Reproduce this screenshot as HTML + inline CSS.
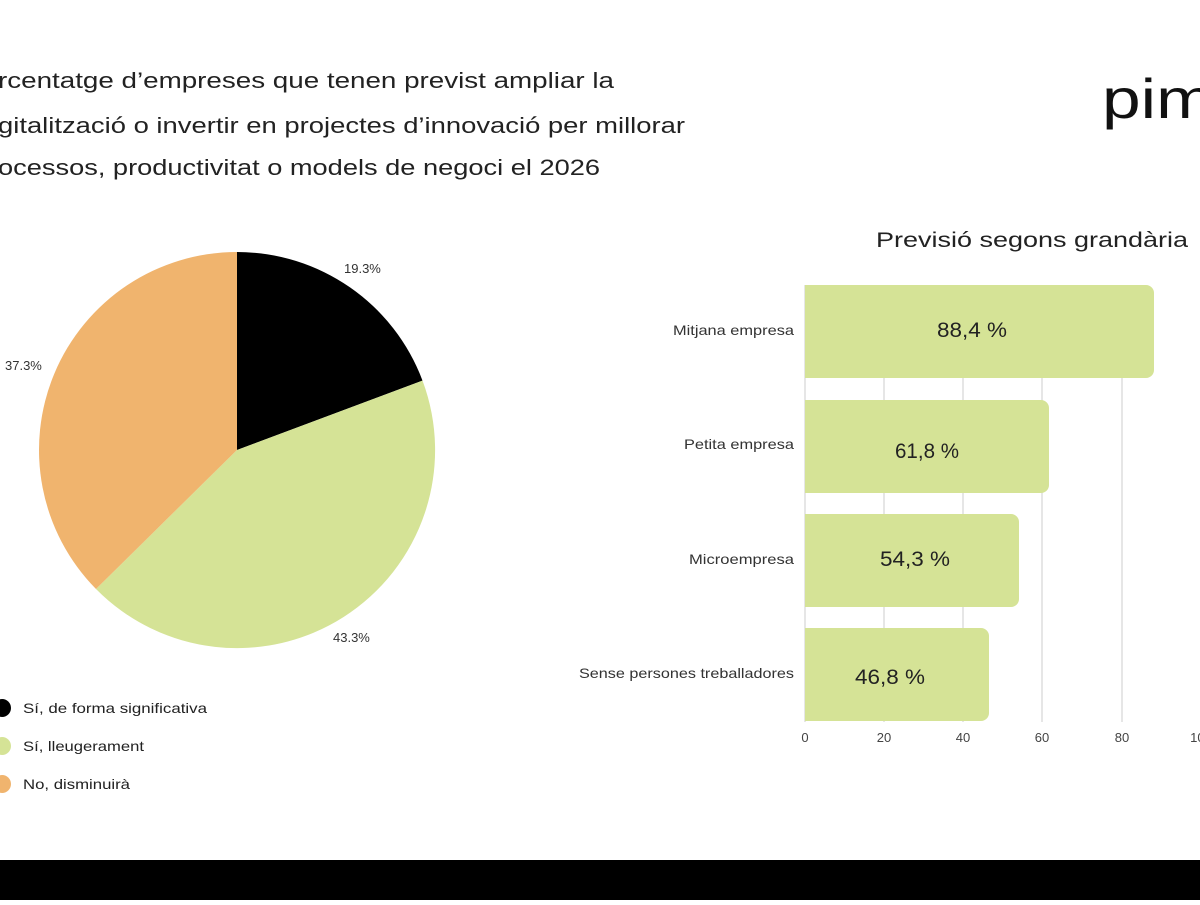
<!DOCTYPE html>
<html><head><meta charset="utf-8"><style>
html,body{margin:0;padding:0;background:#fff;}
body{width:1200px;height:900px;overflow:hidden;position:relative;font-family:"Liberation Sans",sans-serif;}
</style></head><body>
<svg width="1200" height="900" viewBox="0 0 1200 900" xmlns="http://www.w3.org/2000/svg" font-family="Liberation Sans, sans-serif">
<rect width="1200" height="900" fill="#fff"/>
<g font-size="22" fill="#222" lengthAdjust="spacingAndGlyphs">
<text x="-2" y="88" textLength="616" lengthAdjust="spacingAndGlyphs">rcentatge d’empreses que tenen previst ampliar la</text>
<text x="-2" y="133" textLength="687" lengthAdjust="spacingAndGlyphs">gitalització o invertir en projectes d’innovació per millorar</text>
<text x="-2" y="175" textLength="602" lengthAdjust="spacingAndGlyphs">ocessos, productivitat o models de negoci el 2026</text>
</g>
<text x="1102" y="118" font-size="56" fill="#111" textLength="112" lengthAdjust="spacingAndGlyphs">pim</text>
<!-- pie -->
<path d="M237,450 L237,252 A198,198 0 0 1 422.5,380.6 Z" fill="#000"/>
<path d="M237,450 L422.5,380.6 A198,198 0 0 1 96,589 Z" fill="#d5e396"/>
<path d="M237,450 L96,589 A198,198 0 0 1 237,252 Z" fill="#f0b46e"/>
<g font-size="13" fill="#333">
<text x="344" y="273">19.3%</text>
<text x="5" y="370">37.3%</text>
<text x="333" y="642">43.3%</text>
</g>
<circle cx="2" cy="708" r="9" fill="#000"/>
<circle cx="2" cy="746" r="9" fill="#d5e396"/>
<circle cx="2" cy="784" r="9" fill="#f0b46e"/>
<g font-size="14" fill="#222">
<text x="23" y="713" textLength="184" lengthAdjust="spacingAndGlyphs">Sí, de forma significativa</text>
<text x="23" y="751" textLength="121" lengthAdjust="spacingAndGlyphs">Sí, lleugerament</text>
<text x="23" y="789" textLength="107" lengthAdjust="spacingAndGlyphs">No, disminuirà</text>
</g>
<!-- bars -->
<text x="876" y="247" font-size="21" fill="#222" textLength="312" lengthAdjust="spacingAndGlyphs">Previsió segons grandària</text>
<g stroke="#ddd" stroke-width="1.5">
<line x1="884" y1="285" x2="884" y2="722"/>
<line x1="963" y1="285" x2="963" y2="722"/>
<line x1="1042" y1="285" x2="1042" y2="722"/>
<line x1="1122" y1="285" x2="1122" y2="722"/>
<line x1="1201" y1="285" x2="1201" y2="722"/>
<line x1="805" y1="285" x2="805" y2="722"/>
</g>
<g fill="#d5e396">
<path d="M805,285 H1146 a8,8 0 0 1 8,8 V370 a8,8 0 0 1 -8,8 H805Z"/>
<path d="M805,400 H1041 a8,8 0 0 1 8,8 V485 a8,8 0 0 1 -8,8 H805Z"/>
<path d="M805,514 H1011 a8,8 0 0 1 8,8 V599 a8,8 0 0 1 -8,8 H805Z"/>
<path d="M805,628 H981 a8,8 0 0 1 8,8 V713 a8,8 0 0 1 -8,8 H805Z"/>
</g>
<g font-size="21" fill="#222">
<text x="937" y="337" textLength="70" lengthAdjust="spacingAndGlyphs">88,4 %</text>
<text x="895" y="458" textLength="64" lengthAdjust="spacingAndGlyphs">61,8 %</text>
<text x="880" y="566" textLength="70" lengthAdjust="spacingAndGlyphs">54,3 %</text>
<text x="855" y="684" textLength="70" lengthAdjust="spacingAndGlyphs">46,8 %</text>
</g>
<g font-size="14" fill="#333" text-anchor="end">
<text x="794" y="335" textLength="121" lengthAdjust="spacingAndGlyphs">Mitjana empresa</text>
<text x="794" y="449" textLength="110" lengthAdjust="spacingAndGlyphs">Petita empresa</text>
<text x="794" y="564" textLength="105" lengthAdjust="spacingAndGlyphs">Microempresa</text>
<text x="794" y="678" textLength="215" lengthAdjust="spacingAndGlyphs">Sense persones treballadores</text>
</g>
<g font-size="13" fill="#444" text-anchor="middle">
<text x="805" y="742">0</text>
<text x="884" y="742">20</text>
<text x="963" y="742">40</text>
<text x="1042" y="742">60</text>
<text x="1122" y="742">80</text>
<text x="1201" y="742">100</text>
</g>
<rect x="0" y="860" width="1200" height="40" fill="#000"/>
</svg>
</body></html>
